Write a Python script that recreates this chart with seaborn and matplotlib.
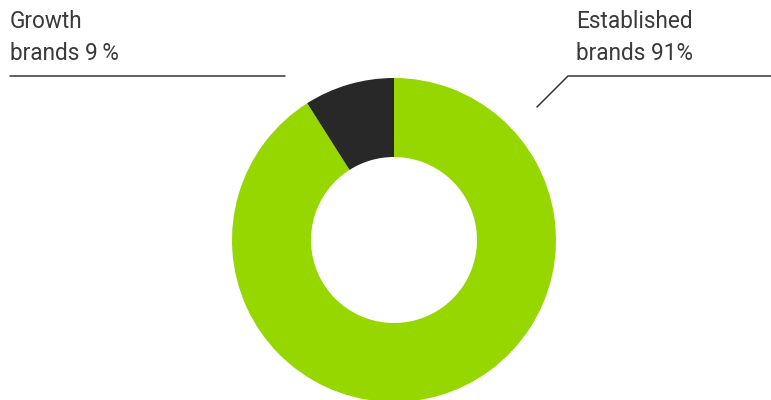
import matplotlib
matplotlib.use("Agg")
import matplotlib.pyplot as plt
import seaborn as sns

segments = ["Established brands", "Growth brands"]
shares = [91, 9]
colors = ["#96D700", "#282828"]
label_lines = {
    "Growth brands": ["Growth", "brands 9\u2009%"],
    "Established brands": ["Established", "brands 91%"],
}

sns.set_theme(style="white")
plt.rcParams["font.family"] = ["Roboto", "DejaVu Sans"]

W, H = 771, 400
fig = plt.figure(figsize=(W / 100, H / 100), dpi=100)
ax = fig.add_axes([0, 0, 1, 1])

ax.pie(shares, colors=colors, startangle=90, counterclock=False,
       center=(394, H - 240), radius=162,
       wedgeprops=dict(width=79, linewidth=0))
ax.set_xlim(0, W)
ax.set_ylim(0, H)
ax.set_aspect("equal")
ax.axis("off")

txt_kw = dict(fontsize=16.3, color="#3a3a3a", va="baseline", ha="left",
              fontweight="normal")
gl = label_lines["Growth brands"]
ax.text(10, H - 28, gl[0], **txt_kw)
ax.text(10, H - 60, gl[1], **txt_kw)
ax.plot([10, 285], [H - 76, H - 76], color="#333333", lw=1.1)

el = label_lines["Established brands"]
ax.text(576, H - 28, el[0], **txt_kw)
ax.text(576, H - 60, el[1], **txt_kw)
ax.plot([771, 568, 537], [H - 76, H - 76, H - 107], color="#333333", lw=1.1)

fig.savefig("out.png", dpi=100)
